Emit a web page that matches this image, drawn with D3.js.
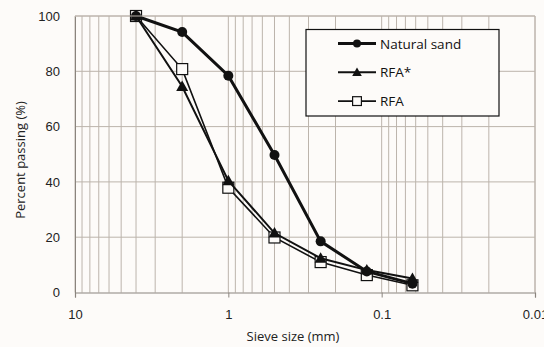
<!DOCTYPE html>
<html>
<head>
<meta charset="utf-8">
<script src="https://cdn.jsdelivr.net/npm/d3@7"></script>
<style>
  body { margin: 0; background: #fdfbf9; }
  svg { display: block; font-family: "Open Sans", sans-serif; }
</style>
</head>
<body>
<svg id="chart" width="544" height="347"></svg>
<script>
// Sieve sizes (mm) and percent passing
const sieveSizes = [4, 2, 1, 0.5, 0.25, 0.125, 0.063];
const naturalSand = [100, 94.2, 78.4, 49.7, 18.5, 7.6, 3.2];
const rfaStar = [100, 74.5, 40.4, 21.5, 12.4, 8.1, 5.1];
const rfa = [100, 80.8, 37.9, 19.9, 11, 6.3, 2.6];
const xTicks = [10, 1, 0.1, 0.01];
const yTicks = [0, 20, 40, 60, 80, 100];

const series = [
    { name: 'RFA', values: rfa, marker: 'square', width: 1.6 },
    { name: 'RFA*', values: rfaStar, marker: 'triangle', width: 2 },
    { name: 'Natural sand', values: naturalSand, marker: 'circle', width: 3 }
];
const legendOrder = ['Natural sand', 'RFA*', 'RFA'];

const svg = d3.select('#chart');
const plotLeft = 75, plotRight = 535, plotTop = 16, plotBottom = 292.5;

const x = d3.scaleLog().domain([10, 0.01]).range([plotLeft, plotRight]);
const y = d3.scaleLinear().domain([0, 100]).range([plotBottom, plotTop]);

const gridColor = '#bcb4ac';

// Vertical log gridlines (1..9 per decade)
const minor = [];
[1, 0.1, 0.01].forEach(dec => {
    for (let k = 1; k <= 9; k++) minor.push(dec * k);
});
minor.push(10);
svg.append('g')
    .selectAll('line')
    .data(minor)
    .enter()
    .append('line')
    .attr('x1', d => x(d)).attr('x2', d => x(d))
    .attr('y1', plotTop).attr('y2', plotBottom)
    .style('stroke', gridColor)
    .style('stroke-width', 1);

// Horizontal gridlines
svg.append('g')
    .selectAll('line')
    .data(yTicks.filter(d => d > 0))
    .enter()
    .append('line')
    .attr('x1', plotLeft).attr('x2', plotRight)
    .attr('y1', d => y(d)).attr('y2', d => y(d))
    .style('stroke', gridColor)
    .style('stroke-width', 1);

// Axes
const xAxis = svg.append('g')
    .attr('transform', `translate(0,${plotBottom})`)
    .call(d3.axisBottom(x).tickValues(xTicks).tickFormat(d3.format('~g')).tickSize(5).tickPadding(12));
xAxis.select('.domain').style('stroke', '#8a847e').style('stroke-width', 1.2);
xAxis.selectAll('.tick line').style('stroke', '#8a847e');
xAxis.selectAll('text').style('font-size', '13px').style('fill', '#222');

const yAxis = svg.append('g')
    .attr('transform', `translate(${plotLeft},0)`)
    .call(d3.axisLeft(y).tickValues(yTicks).tickSize(0).tickPadding(15));
yAxis.select('.domain').style('stroke', '#8a847e');
yAxis.selectAll('text').style('font-size', '13px').style('fill', '#222');

// Axis titles
svg.append('text')
    .attr('x', 293).attr('y', 341)
    .attr('text-anchor', 'middle')
    .style('font-size', '13px').style('fill', '#222')
    .text('Sieve size (mm)');
svg.append('text')
    .attr('transform', 'translate(25,160) rotate(-90)')
    .attr('text-anchor', 'middle')
    .style('font-size', '13px').style('fill', '#222')
    .text('Percent passing (%)');

function drawMarker(g, type, cx, cy, scale) {
    if (type === 'circle') {
        g.append('circle').attr('cx', cx).attr('cy', cy).attr('r', 5 * scale)
            .style('fill', '#111');
    } else if (type === 'triangle') {
        const s = 6 * scale;
        g.append('path')
            .attr('d', `M${cx},${cy - s}L${cx + s},${cy + s * 0.75}L${cx - s},${cy + s * 0.75}Z`)
            .style('fill', '#111');
    } else {
        const s = 5.5 * scale;
        g.append('rect').attr('x', cx - s).attr('y', cy - s)
            .attr('width', 2 * s).attr('height', 2 * s)
            .style('fill', '#fdfbf9').style('stroke', '#111').style('stroke-width', 1.2);
    }
}

const line = d3.line().x(d => x(d[0])).y(d => y(d[1]));

series.forEach(s => {
    const pts = sieveSizes.map((v, i) => [v, s.values[i]]);
    const g = svg.append('g');
    g.append('path')
        .attr('d', line(pts))
        .style('fill', 'none')
        .style('stroke', '#111')
        .style('stroke-width', s.width);
    pts.forEach(p => drawMarker(g, s.marker, x(p[0]), y(p[1]), 1));
});

// Plot border (top / right)
svg.append('path')
    .attr('d', `M${plotLeft},${plotTop}H${plotRight}V${plotBottom}`)
    .style('fill', 'none').style('stroke', gridColor);

// Legend
const legend = svg.append('g');
legend.append('rect')
    .attr('x', 306).attr('y', 29.5).attr('width', 193).attr('height', 86.5)
    .style('fill', '#fdfbf9').style('stroke', '#111').style('stroke-width', 1.2);
legendOrder.forEach((name, i) => {
    const s = series.find(d => d.name === name);
    const ly = 43.5 + i * 28.8;
    legend.append('line')
        .attr('x1', 338).attr('x2', 376).attr('y1', ly).attr('y2', ly)
        .style('stroke', '#111').style('stroke-width', s.width);
    drawMarker(legend, s.marker, 357, ly, 0.8);
    legend.append('text')
        .attr('x', 380).attr('y', ly + 5)
        .style('font-size', '13.5px').style('fill', '#111')
        .text(name);
});
</script>
</body>
</html>
